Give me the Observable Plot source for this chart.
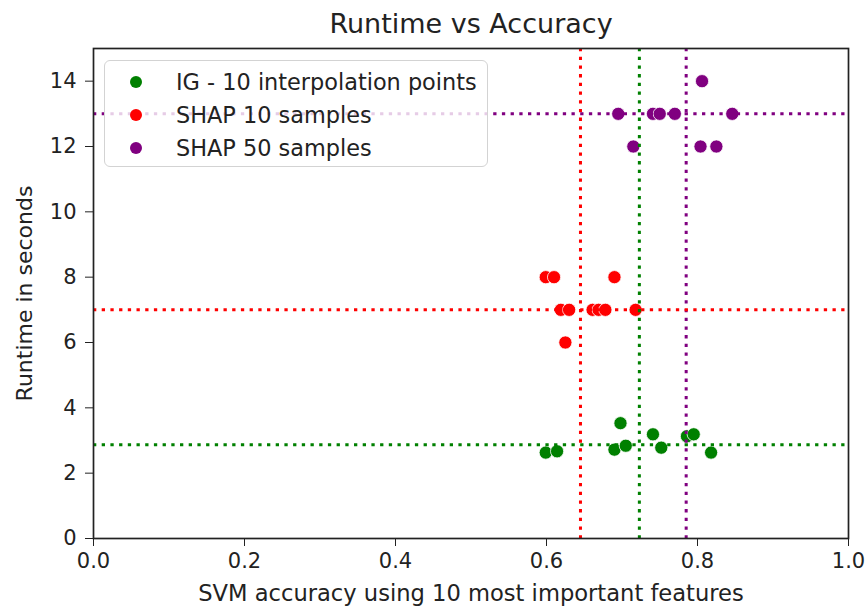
<!DOCTYPE html>
<html><head><meta charset="utf-8">
<script src="https://cdn.jsdelivr.net/npm/d3@7"></script>
<script src="https://cdn.jsdelivr.net/npm/@observablehq/plot@0.6"></script>
<style>
body{margin:0;background:#fff;}
#wrap{position:relative;width:865px;height:607px;font-family:"DejaVu Sans",sans-serif;overflow:hidden;}
#legend{position:absolute;left:104px;top:60px;width:384px;height:107px;box-sizing:border-box;border:1.3px solid #d3d3d3;border-radius:6px;background:rgba(255,255,255,0.8);}
.row{position:absolute;left:0;height:33px;display:flex;align-items:center;font-size:22.4px;color:#222;white-space:nowrap;}
.sw{position:absolute;left:25px;width:12px;height:12px;border-radius:50%;}
.lab{position:absolute;left:71px;}
</style></head><body><div id="wrap"></div>
<script>
const title = "Runtime vs Accuracy";
const xLabel = "SVM accuracy using 10 most important features";
const yLabel = "Runtime in seconds";
const series = ["IG - 10 interpolation points", "SHAP 10 samples", "SHAP 50 samples"];
const colors = ["green", "red", "purple"];

const igX = [0.599, 0.614, 0.698, 0.690, 0.705, 0.741, 0.752, 0.786, 0.795, 0.818];
const igY = [2.63, 2.67, 3.53, 2.72, 2.84, 3.19, 2.78, 3.13, 3.19, 2.63];
const shap10X = [0.599, 0.610, 0.690, 0.619, 0.630, 0.661, 0.669, 0.678, 0.718, 0.625];
const shap10Y = [8, 8, 8, 7, 7, 7, 7, 7, 7, 6];
const shap50X = [0.695, 0.741, 0.750, 0.770, 0.846, 0.806, 0.715, 0.804, 0.825];
const shap50Y = [13, 13, 13, 13, 13, 14, 12, 12, 12];

const refX = [0.723, 0.645, 0.785];
const refY = [2.87, 7.0, 13.0];

const xTicks = [0, 0.2, 0.4, 0.6, 0.8, 1.0];
const yTicks = [0, 2, 4, 6, 8, 10, 12, 14];

const xs = [igX, shap10X, shap50X], ys = [igY, shap10Y, shap50Y];
const points = series.flatMap((s, i) => xs[i].map((x, j) => ({series: s, x, y: ys[i][j]})));
const refs = series.map((s, i) => ({series: s, x: refX[i], y: refY[i]}));

const plot = Plot.plot({
  width: 865, height: 607,
  marginLeft: 93, marginRight: 17, marginTop: 48, marginBottom: 69,
  style: {fontFamily: "DejaVu Sans", fontSize: "21px", color: "#222", background: "#fff"},
  x: {domain: [0, 1]},
  y: {domain: [0, 15]},
  color: {domain: series, range: colors},
  marks: [
    Plot.axisX({ticks: xTicks, tickFormat: d3.format(".1f"), tickSize: 8, tickPadding: 7, fontSize: 21,
      label: null, stroke: "#222"}),
    Plot.axisY({ticks: yTicks, tickFormat: d3.format("d"), tickSize: 8, tickPadding: 9, fontSize: 21,
      label: null, stroke: "#222"}),
    Plot.dot(points, {x: "x", y: "y", fill: "series", r: 6.6, stroke: "white", strokeWidth: 0.8}),
    Plot.ruleX(refs, {x: "x", stroke: "series", strokeWidth: 3, strokeDasharray: "3.3,5.4"}),
    Plot.ruleY(refs, {y: "y", stroke: "series", strokeWidth: 3, strokeDasharray: "3.3,5.4"}),
    Plot.frame({stroke: "#222", strokeWidth: 1.7}),
    Plot.text([title], {frameAnchor: "top", dy: -24, lineAnchor: "middle", textAnchor: "middle", text: d => d, fontSize: 27, fill: "#222"}),
    Plot.text([xLabel], {frameAnchor: "bottom", dy: 55, lineAnchor: "middle", textAnchor: "middle", text: d => d, fontSize: 22.6, fill: "#222"}),
    Plot.text([yLabel], {frameAnchor: "left", dx: -69, lineAnchor: "middle", textAnchor: "middle", rotate: -90, text: d => d, fontSize: 22, fill: "#222"})
  ]
});
const wrap = document.getElementById("wrap");
wrap.appendChild(plot);
const leg = document.createElement("div");
leg.id = "legend";
series.forEach((s, i) => {
  const row = document.createElement("div");
  row.className = "row";
  row.style.top = (4 + i * 33) + "px";
  row.innerHTML = `<span class="sw" style="background:${colors[i]}"></span><span class="lab"></span>`;
  row.querySelector(".lab").textContent = s;
  leg.appendChild(row);
});
wrap.appendChild(leg);
</script>
</body></html>
